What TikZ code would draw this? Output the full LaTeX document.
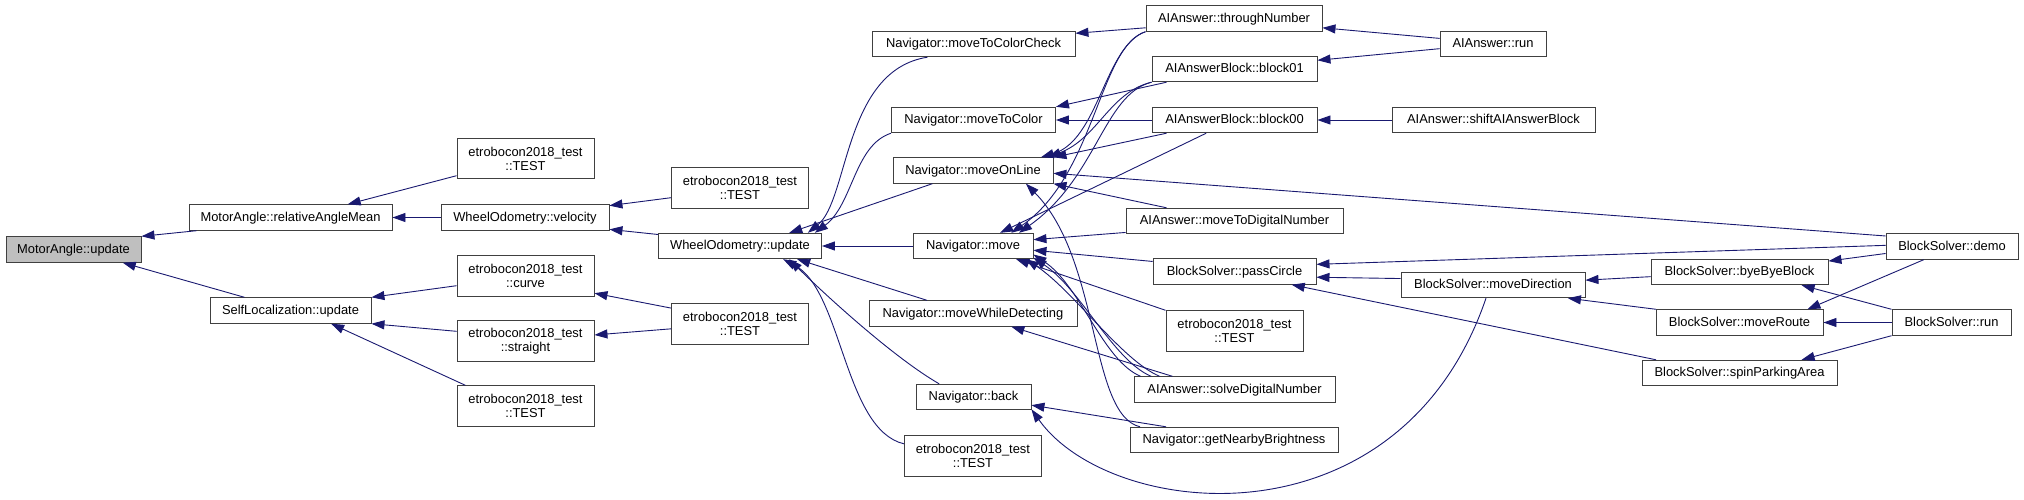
\documentclass[tikz,border=0pt]{standalone}
\usepackage{fontspec}
\setmainfont{Liberation Sans}
\usepackage{tikz}
\usetikzlibrary{arrows.meta}
\definecolor{callblue}{RGB}{25,25,112}
\definecolor{rootgray}{RGB}{191,191,191}
\definecolor{framegray}{RGB}{64,64,64}

\begin{document}
\begin{tikzpicture}[x=1pt, y=-1pt,
  fn/.style={draw=framegray, line width=0.9pt, fill=white, inner xsep=5pt, inner ysep=1pt, minimum height=25.5pt, text height=9.6pt, text depth=2.6pt, font=\fontsize{12.9pt}{14pt}\selectfont},
  fntwo/.style={fn, align=center, minimum width=137pt, minimum height=40.5pt, text height=, text depth=},
  call/.style={draw=callblue, line width=0.9pt, -{Triangle[length=13pt,width=9pt]}}]
\useasboundingbox (0,0) rectangle (2024,499);
\node[fn, fill=rootgray, minimum width=135pt] (mau) at (73.5,249.5) {MotorAngle::update};
\node[fn, minimum width=203pt] (rel) at (290.5,217.5) {MotorAngle::relativeAngleMean};
\node[fn, minimum width=161pt] (slu) at (290.5,310.5) {SelfLocalization::update};
\node[fntwo] (tA) at (525.5,158.5) {etrobocon2018\_test\\::TEST};
\node[fn, minimum width=168pt] (vel) at (525,217.5) {WheelOdometry::velocity};
\node[fntwo] (crv) at (525.5,276) {etrobocon2018\_test\\::curve};
\node[fntwo] (str) at (525.5,341) {etrobocon2018\_test\\::straight};
\node[fntwo] (tB) at (525.5,406) {etrobocon2018\_test\\::TEST};
\node[fntwo] (tC) at (740,188) {etrobocon2018\_test\\::TEST};
\node[fn, minimum width=163pt] (wou) at (740,246) {WheelOdometry::update};
\node[fntwo] (tD) at (740,324) {etrobocon2018\_test\\::TEST};
\node[fn, minimum width=203pt] (mcc) at (973.5,44) {Navigator::moveToColorCheck};
\node[fn, minimum width=164pt] (mtc) at (973.5,120) {Navigator::moveToColor};
\node[fn, minimum width=160pt] (mol) at (973,170.5) {Navigator::moveOnLine};
\node[fn, minimum width=120pt] (mov) at (973,246) {Navigator::move};
\node[fn, minimum width=208pt] (mwd) at (973,313.5) {Navigator::moveWhileDetecting};
\node[fn, minimum width=115pt] (bck) at (973.5,397) {Navigator::back};
\node[fntwo] (tE) at (973,456) {etrobocon2018\_test\\::TEST};
\node[fn, minimum width=176pt] (thn) at (1234,18.5) {AIAnswer::throughNumber};
\node[fn, minimum width=165pt] (b01) at (1234.5,69) {AIAnswerBlock::block01};
\node[fn, minimum width=165pt] (b00) at (1234.5,120) {AIAnswerBlock::block00};
\node[fn, minimum width=217pt] (mdn) at (1234.5,221) {AIAnswer::moveToDigitalNumber};
\node[fn, minimum width=163pt] (pci) at (1234.5,271.5) {BlockSolver::passCircle};
\node[fntwo] (tF) at (1234.5,331) {etrobocon2018\_test\\::TEST};
\node[fn, minimum width=201pt] (sdn) at (1234.5,389.5) {AIAnswer::solveDigitalNumber};
\node[fn, minimum width=208pt] (gnb) at (1234,440) {Navigator::getNearbyBrightness};
\node[fn, minimum width=106pt] (run) at (1493,44) {AIAnswer::run};
\node[fn, minimum width=203pt] (sab) at (1493.5,120) {AIAnswer::shiftAIAnswerBlock};
\node[fn, minimum width=184pt] (mdr) at (1493,285) {BlockSolver::moveDirection};
\node[fn, minimum width=177pt] (bbb) at (1739.5,272) {BlockSolver::byeByeBlock};
\node[fn, minimum width=167pt] (mrt) at (1739.5,322.5) {BlockSolver::moveRoute};
\node[fn, minimum width=195pt] (spa) at (1739.5,373) {BlockSolver::spinParkingArea};
\node[fn, minimum width=132pt] (dem) at (1952,246.5) {BlockSolver::demo};
\node[fn, minimum width=119pt] (bsr) at (1951.5,322.5) {BlockSolver::run};
\draw[call] (rel.188) -- (mau.north east);
\draw[call] (slu.164) -- (mau.-15);
\draw[call] (tA.194) -- (rel.13);
\draw[call] (vel) -- (rel);
\draw[call] (crv.188) -- (slu.north east);
\draw[call] (str.172) -- (slu.south east);
\draw[call] (tB.161) -- (slu.-18);
\draw[call] (tC.188) -- (vel.8);
\draw[call] (wou.172) -- (vel.-8);
\draw[call] (tD.167) -- (crv.-14);
\draw[call] (tD.184) -- (str.5);
\draw[call] (mcc.196) .. controls +(-84,13) and +(41,-33) .. (wou.11);
\draw[call] (mtc.south west) .. controls +(-37,12) and +(38,-28) .. (wou.10);
\draw[call] (mol.198) -- (wou.15);
\draw[call] (mov) -- (wou);
\draw[call] (mwd.164) -- (wou.-13);
\draw[call] (bck.159) .. controls +(-50,-29) and +(26,26) .. (wou.-15);
\draw[call] (tE.170) .. controls +(-60,-14) and +(59,31) .. (wou.-17);
\draw[call] (thn.186) -- (mcc.6);
\draw[call] (thn.south west) .. controls +(-41,14) and +(58,-17) .. (mol.11);
\draw[call] (thn.south west) .. controls +(-46,14) and +(84,-58) .. (mov.19);
\draw[call] (b01.191) -- (mtc.north east);
\draw[call] (b00) -- (mtc);
\draw[call] (b01.south west) .. controls +(-42,10) and +(50,-19) .. (mol.10);
\draw[call] (b01.south west) .. controls +(-48,12) and +(78,-55) .. (mov.16);
\draw[call] (b00.191) -- (mol.north east);
\draw[call] (b00.205) -- (mov.26);
\draw[call] (dem.171) -- (mol.-2);
\draw[call] (mdn.169) -- (mol.south east);
\draw[call] (mdn.186) -- (mov.6);
\draw[call] (pci.173) -- (mov.-4);
\draw[call] (tF.north west) -- (mov.-17);
\foreach \a/\b in {172/-8,171/-11,170/-14}
  \draw[call] (sdn.\a) .. controls +(-38,-16) and +(47,31) .. (mov.\b);
\draw[call] (sdn.168) -- (mwd.-19);
\draw[call] (gnb.172) .. controls +(-51,-12) and +(75,76) .. (mol.-14);
\draw[call] (gnb.169) -- (bck.-8);
\draw[call] (mdr.242) .. controls +(-86,252) and +(79,111) .. (bck.-12);
\draw[call] (dem.179) -- (pci.5);
\draw[call] (mdr.176) -- (pci.-4);
\draw[call] (spa.171) -- (pci.-13);
\draw[call] (bbb.183) -- (mdr.3);
\draw[call] (mrt.171) -- (mdr.-10);
\draw[call] (dem.186) -- (bbb.7);
\draw[call] (dem.205) -- (mrt.11);
\draw[call] (bsr) -- (mrt);
\draw[call] (bsr.north west) -- (bbb.-12);
\draw[call] (bsr.south west) -- (spa.12);
\draw[call] (run.174) -- (thn.-6);
\draw[call] (run.185) -- (b01.6);
\draw[call] (sab) -- (b00);
\end{tikzpicture}
\end{document}
